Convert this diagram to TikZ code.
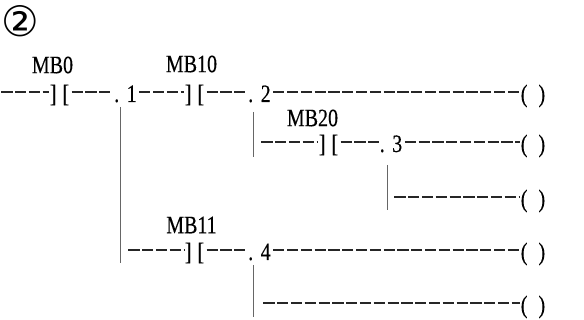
\documentclass[tikz,border=0pt]{standalone}
\usepackage{fontspec}
\setmainfont{Liberation Serif}[FakeStretch=0.8,FakeBold=0.3]
\newfontfamily\symfont{DejaVu Sans}
\begin{document}
\begin{tikzpicture}[x=1pt,y=-1pt,
  font=\fontsize{25}{25}\selectfont,
  wire/.style={line width=1.2pt, black!85, dash pattern=on 11.2pt off 2.6pt, dash phase=12.5pt},
  rail/.style={line width=0.8pt, black!60},
  elem/.style={inner sep=0pt, inner xsep=1pt, text height=20pt, text depth=0pt, anchor=center},
  lbl/.style={inner sep=0pt, anchor=center},
  contact/.style={elem},
  coil/.style={elem},
  junc/.style={elem}]
\useasboundingbox (0,0) rectangle (584,320);
\node[inner sep=0pt, font=\symfont\fontsize{42}{42}\selectfont] (num) at (20,21) {②};
% labels
\node[lbl] (l0) at (52.5,65) {MB0};
\node[lbl] (l10) at (191.5,64) {MB10};
\node[lbl] (l20) at (312.5,118) {MB20};
\node[lbl] (l11) at (191.5,225) {MB11};
% row 1
\coordinate (r1s) at (0,92);
\node[contact] (k1) at (59.5,92) {]\hspace{6pt}[};
\node[junc] (n1) at (125.5,92) {.\hspace{7.5pt}1};
\node[contact] (k2) at (194.5,92) {]\hspace{6pt}[};
\node[junc] (n2) at (259.5,92) {.\hspace{7.5pt}2};
\node[coil] (o1) at (533,92) {(\hspace{11pt})};
\draw[wire] (r1s) -- (k1.west);
\draw[wire] (k1.east) -- (n1.west);
\draw[wire] (n1.east) -- (k2.west);
\draw[wire] (k2.east) -- (n2.west);
\draw[wire] (n2.east) -- (o1.west);
% row 2
\coordinate (r2s) at (260,142);
\node[contact] (k3) at (328.5,142) {]\hspace{6pt}[};
\node[junc] (n3) at (391,142) {.\hspace{7.5pt}3};
\node[coil] (o2) at (533,142) {(\hspace{11pt})};
\draw[wire] (r2s) -- (k3.west);
\draw[wire] (k3.east) -- (n3.west);
\draw[wire] (n3.east) -- (o2.west);
% row 3
\coordinate (r3s) at (393,197);
\node[coil] (o3) at (533,197) {(\hspace{11pt})};
\draw[wire] (r3s) -- (o3.west);
% row 4
\coordinate (r4s) at (127,250);
\node[contact] (k4) at (194.5,250) {]\hspace{6pt}[};
\node[junc] (n4) at (259.5,250) {.\hspace{7.5pt}4};
\node[coil] (o4) at (533,250) {(\hspace{11pt})};
\draw[wire] (r4s) -- (k4.west);
\draw[wire] (k4.east) -- (n4.west);
\draw[wire] (n4.east) -- (o4.west);
% row 5
\coordinate (r5s) at (262,303);
\node[coil] (o5) at (533,303) {(\hspace{11pt})};
\draw[wire] (r5s) -- (o5.west);
% verticals
\coordinate (v1t) at (120,107); \coordinate (v1b) at (120,263);
\coordinate (v2t) at (253,112); \coordinate (v2b) at (253,157);
\coordinate (v3t) at (387,165); \coordinate (v3b) at (387,210);
\coordinate (v4t) at (253,265); \coordinate (v4b) at (253,317);
\draw[rail] (v1t) -- (v1b);
\draw[rail] (v2t) -- (v2b);
\draw[rail] (v3t) -- (v3b);
\draw[rail] (v4t) -- (v4b);
\end{tikzpicture}
\end{document}
